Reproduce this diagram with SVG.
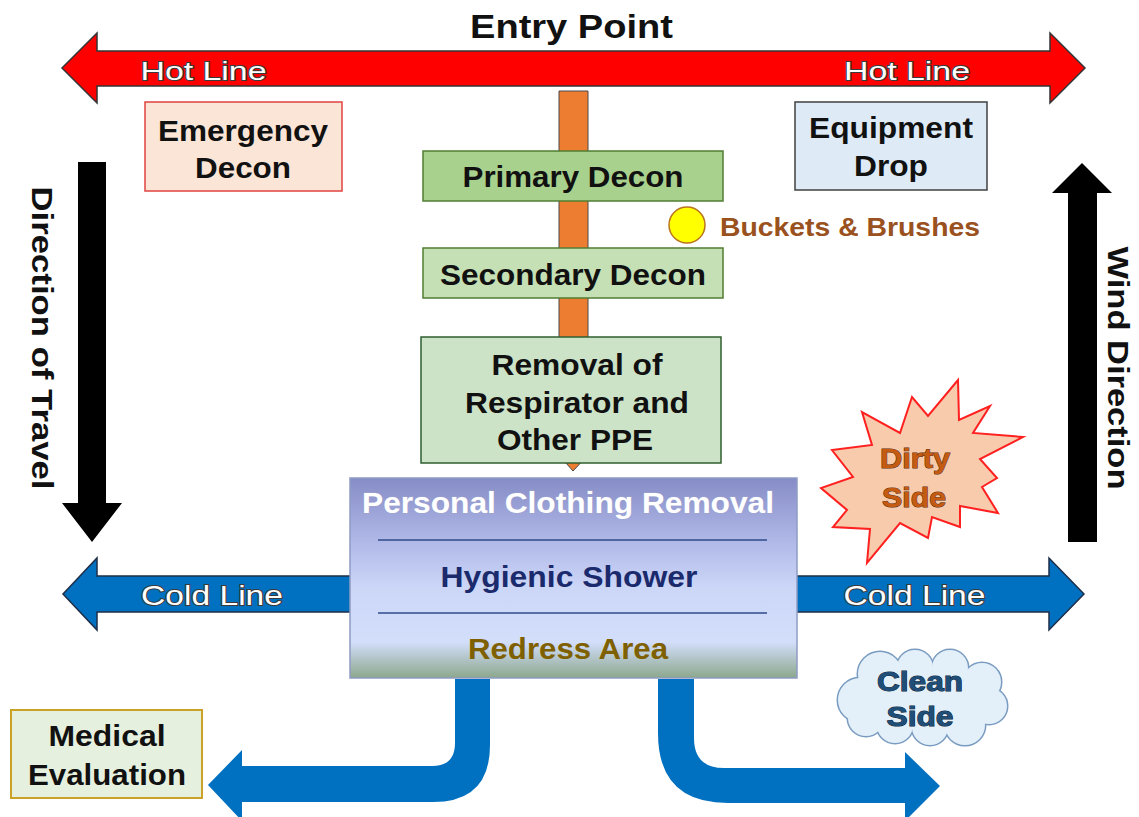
<svg xmlns="http://www.w3.org/2000/svg" width="1139" height="817" viewBox="0 0 1139 817">
<defs>
<linearGradient id="boxGrad" x1="0" y1="0" x2="0" y2="1">
<stop offset="0" stop-color="#868CC6"/>
<stop offset="0.3" stop-color="#AEB6E6"/>
<stop offset="0.55" stop-color="#CCD7F8"/>
<stop offset="0.82" stop-color="#D3DEFB"/>
<stop offset="1" stop-color="#8CA78C"/>
</linearGradient>
</defs>
<style>
text{font-family:"Liberation Sans",Arial,sans-serif;font-weight:bold;text-anchor:middle;}
.blk{fill:#111;}
.lineTxt{font-weight:normal;fill:#fff;stroke:#3a3a3a;stroke-width:2;paint-order:stroke;}
.hot{fill:#FF0000;stroke:#333;stroke-width:1.5;}
.cold{fill:#0070C0;stroke:#1E2E48;stroke-width:1.5;}
.bend{fill:#0070C0;}
.dir{fill:#000;}
.dec1{fill:#A9D18E;stroke:#507E32;stroke-width:1.5;}
.dec2{fill:#C5E0B4;stroke:#507E32;stroke-width:1.5;}
</style>

<g id="connectors">
<path id="hot-line" class="hot" d="M62,68 L97,33 L97,51 L1050,51 L1050,33 L1085,68 L1050,103 L1050,86 L97,86 L97,103 Z"/>
<path id="cold-line" class="cold" d="M63,594 L97,558 L97,576 L1049,576 L1049,558 L1084,594 L1049,630 L1049,612 L97,612 L97,630 Z"/>
<path id="orange-path" d="M559,91 H588 V455 L573,471 L559,455 Z" fill="#ED7D31" stroke="#4a4a4a" stroke-width="1"/>
<path id="travel-arrow" class="dir" d="M78,162 H106 V503 H122 L92,542 L62,503 H78 Z"/>
<path id="wind-arrow" class="dir" d="M1082,163 L1112,193 H1097 V542 H1068 V193 H1052 Z"/>
<path id="to-medical" class="bend" d="M455,679 L490,679 L490,745 Q490,802 433,802 L242,802 L242,821 L208,785 L242,750 L242,766 L432,766 Q455,766 455,743 Z"/>
<path id="to-clean" class="bend" d="M658,679 L694,679 L694,738 Q694,768 724,768 L905,768 L905,752 L940,786 L905,821 L905,803 L728,803 Q658,803 658,733 Z"/>
</g>

<text x="571.5" y="38" font-size="34" textLength="203" lengthAdjust="spacingAndGlyphs" class="blk">Entry Point</text>
<text x="203.5" y="80" font-size="26" textLength="126" lengthAdjust="spacingAndGlyphs" class="lineTxt">Hot Line</text>
<text x="907" y="80" font-size="26" textLength="126" lengthAdjust="spacingAndGlyphs" class="lineTxt">Hot Line</text>
<text x="212" y="605" font-size="28" textLength="142" lengthAdjust="spacingAndGlyphs" class="lineTxt">Cold Line</text>
<text x="914.5" y="605" font-size="28" textLength="142" lengthAdjust="spacingAndGlyphs" class="lineTxt">Cold Line</text>
<text transform="translate(32,338) rotate(90)" x="0" y="0" font-size="30" textLength="303" lengthAdjust="spacingAndGlyphs" class="blk">Direction of Travel</text>
<text transform="translate(1108,368) rotate(90)" x="0" y="0" font-size="30" textLength="243" lengthAdjust="spacingAndGlyphs" class="blk">Wind Direction</text>

<g id="emergency-decon">
<rect x="145" y="102" width="197" height="89" fill="#FBE5D6" stroke="#E0433F" stroke-width="1.5"/>
<text x="243" y="141" font-size="29" textLength="170" lengthAdjust="spacingAndGlyphs" class="blk">Emergency</text>
<text x="243" y="178" font-size="29" textLength="96" lengthAdjust="spacingAndGlyphs" class="blk">Decon</text>
</g>

<g id="equipment-drop">
<rect x="795" y="102" width="192" height="88" fill="#DEEBF7" stroke="#404040" stroke-width="1.5"/>
<text x="891" y="138" font-size="29" textLength="164" lengthAdjust="spacingAndGlyphs" class="blk">Equipment</text>
<text x="891" y="176" font-size="29" textLength="74" lengthAdjust="spacingAndGlyphs" class="blk">Drop</text>
</g>

<g id="primary-decon">
<rect x="423" y="151" width="300" height="50" class="dec1"/>
<text x="573" y="187" font-size="29" textLength="221" lengthAdjust="spacingAndGlyphs" class="blk">Primary Decon</text>
</g>

<g id="buckets-brushes">
<circle cx="687" cy="225" r="18" fill="#FFFF00" stroke="#B8741E" stroke-width="1.5"/>
<text x="720" y="236" font-size="26" textLength="260" lengthAdjust="spacingAndGlyphs" style="text-anchor:start" fill="#9A5120">Buckets &amp; Brushes</text>
</g>

<g id="secondary-decon">
<rect x="423" y="248" width="300" height="50" class="dec2"/>
<text x="573" y="285" font-size="29" textLength="266" lengthAdjust="spacingAndGlyphs" class="blk">Secondary Decon</text>
</g>

<g id="removal-ppe">
<rect x="421" y="337" width="300" height="126" fill="#CCE3C8" stroke="#2F5F2F" stroke-width="1.5"/>
<text x="577" y="375" font-size="30" textLength="171" lengthAdjust="spacingAndGlyphs" class="blk">Removal of</text>
<text x="577" y="413" font-size="30" textLength="224" lengthAdjust="spacingAndGlyphs" class="blk">Respirator and</text>
<text x="575" y="450" font-size="30" textLength="156" lengthAdjust="spacingAndGlyphs" class="blk">Other PPE</text>
</g>

<g id="clothing-shower-redress">
<rect x="350" y="478" width="447" height="200" fill="url(#boxGrad)" stroke="#8E9CC4" stroke-width="1.5"/>
<line x1="378" y1="540" x2="767" y2="540" stroke="#2F4B8A" stroke-width="1.5"/>
<line x1="378" y1="613" x2="767" y2="613" stroke="#2F4B8A" stroke-width="1.5"/>
<text x="568" y="513" font-size="29" textLength="412" lengthAdjust="spacingAndGlyphs" fill="#fff" stroke="#9FA5D0" stroke-width="1" paint-order="stroke">Personal Clothing Removal</text>
<text x="569" y="587" font-size="29" textLength="257" lengthAdjust="spacingAndGlyphs" fill="#1A2A6C">Hygienic Shower</text>
<text x="568" y="659" font-size="29" textLength="200" lengthAdjust="spacingAndGlyphs" fill="#7F6000">Redress Area</text>
</g>

<g id="dirty-side">
<polygon points="958,380 959,420 990,406 973,433 1023,437 980,459 997,478 982,487 998,513 960,506 960,527 932,517 928,538 900,523 867,563 870,529 833,527 847,510 821,488 853,477 832,450 872,445 862,412 900,433 912,397 928,416" fill="#F8CBAD" stroke="#FF2020" stroke-width="2" stroke-linejoin="miter"/>
<text x="915" y="468" font-size="27" textLength="70" lengthAdjust="spacingAndGlyphs" fill="#C55A11" stroke="#5a3010" stroke-width="1" paint-order="stroke">Dirty</text>
<text x="914" y="507" font-size="27" textLength="64" lengthAdjust="spacingAndGlyphs" fill="#C55A11" stroke="#5a3010" stroke-width="1" paint-order="stroke">Side</text>
</g>

<g id="clean-side">
<g fill="none" stroke="#7A9CC0" stroke-width="3">
<circle cx="860" cy="700" r="22"/><circle cx="880" cy="674" r="22"/><circle cx="915" cy="668" r="18"/><circle cx="950" cy="668" r="18"/><circle cx="982" cy="682" r="19"/><circle cx="989" cy="706" r="18"/><circle cx="965" cy="725" r="20"/><circle cx="930" cy="727" r="18"/><circle cx="895" cy="725" r="18"/><circle cx="866" cy="718" r="18"/>
</g>
<g fill="#E3F0FA">
<circle cx="860" cy="700" r="22"/><circle cx="880" cy="674" r="22"/><circle cx="915" cy="668" r="18"/><circle cx="950" cy="668" r="18"/><circle cx="982" cy="682" r="19"/><circle cx="989" cy="706" r="18"/><circle cx="965" cy="725" r="20"/><circle cx="930" cy="727" r="18"/><circle cx="895" cy="725" r="18"/><circle cx="866" cy="718" r="18"/><ellipse cx="925" cy="700" rx="50" ry="30"/>
</g>
<text x="920" y="691" font-size="27" textLength="86" lengthAdjust="spacingAndGlyphs" fill="#1F4E79" stroke="#0a1a30" stroke-width="1" paint-order="stroke">Clean</text>
<text x="920" y="726" font-size="27" textLength="67" lengthAdjust="spacingAndGlyphs" fill="#1F4E79" stroke="#0a1a30" stroke-width="1" paint-order="stroke">Side</text>
</g>

<g id="medical-evaluation">
<rect x="11" y="710" width="191" height="88" fill="#E6F0DE" stroke="#C9A227" stroke-width="2"/>
<text x="107" y="746" font-size="29" textLength="117" lengthAdjust="spacingAndGlyphs" class="blk">Medical</text>
<text x="107" y="785" font-size="29" textLength="158" lengthAdjust="spacingAndGlyphs" class="blk">Evaluation</text>
</g>
</svg>
